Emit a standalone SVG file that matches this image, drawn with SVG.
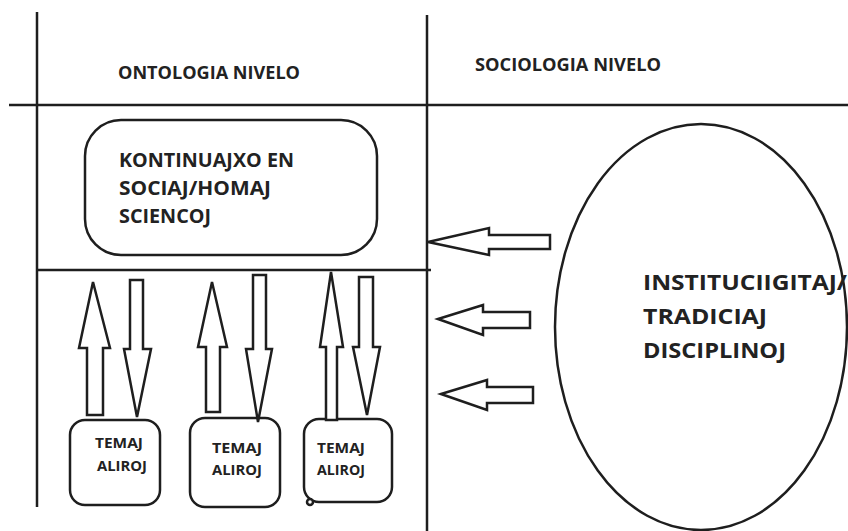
<svg xmlns="http://www.w3.org/2000/svg" width="848" height="531" viewBox="0 0 848 531">
<style>
.ln{stroke:#1e1e1e;stroke-width:2.5;fill:none}
.sh{stroke:#1e1e1e;stroke-width:2.5;fill:#fff;stroke-linejoin:miter}
.ar{stroke:#1e1e1e;stroke-width:2.5;fill:#fff;stroke-linejoin:miter}
text{font-family:"Open Sans","Liberation Sans",sans-serif;font-weight:700;fill:#222}
</style>
<rect width="848" height="531" fill="#fff"/>
<g id="grid">
<line class="ln" x1="37" y1="12" x2="37" y2="507"/>
<line class="ln" x1="427" y1="15" x2="427" y2="531"/>
<line class="ln" x1="9" y1="105" x2="848" y2="105"/>
<line class="ln" x1="37" y1="270" x2="431" y2="270"/>
</g>
<g id="headers">
<text x="118" y="79" font-size="17" textLength="182" lengthAdjust="spacingAndGlyphs">ONTOLOGIA NIVELO</text>
<text x="475" y="71" font-size="17" textLength="186" lengthAdjust="spacingAndGlyphs">SOCIOLOGIA NIVELO</text>
</g>
<g id="kontinuajxo">
<rect class="sh" x="85" y="120" width="292" height="135" rx="36" ry="36"/>
<text font-size="19"><tspan x="119" y="167" textLength="175" lengthAdjust="spacingAndGlyphs">KONTINUAJXO EN</tspan><tspan x="119" y="195" textLength="152" lengthAdjust="spacingAndGlyphs">SOCIAJ/HOMAJ</tspan><tspan x="119" y="223" textLength="92" lengthAdjust="spacingAndGlyphs">SCIENCOJ</tspan></text>
</g>
<g id="institucioj">
<ellipse class="sh" cx="701" cy="327" rx="146" ry="203"/>
<text font-size="22"><tspan x="643" y="290" textLength="204" lengthAdjust="spacingAndGlyphs">INSTITUCIIGITAJ/</tspan><tspan x="643" y="324" textLength="124" lengthAdjust="spacingAndGlyphs">TRADICIAJ</tspan><tspan x="643" y="358" textLength="143" lengthAdjust="spacingAndGlyphs">DISCIPLINOJ</tspan></text>
</g>
<g id="temaj1">
<rect class="sh" x="70" y="420" width="90" height="85" rx="15" ry="15"/>
<text font-size="14"><tspan x="95" y="448" textLength="48" lengthAdjust="spacingAndGlyphs">TEMAJ</tspan><tspan x="97" y="471" textLength="50" lengthAdjust="spacingAndGlyphs">ALIROJ</tspan></text>
</g>
<g id="temaj2">
<rect class="sh" x="190" y="418" width="90" height="89" rx="15" ry="15"/>
<text font-size="14"><tspan x="212" y="453" textLength="50" lengthAdjust="spacingAndGlyphs">TEMAJ</tspan><tspan x="212" y="475" textLength="50" lengthAdjust="spacingAndGlyphs">ALIROJ</tspan></text>
</g>
<g id="temaj3">
<rect class="sh" x="304" y="419" width="88" height="83" rx="15" ry="15"/>
<circle class="sh" cx="310" cy="502" r="3"/>
<text font-size="14"><tspan x="317" y="453" textLength="48" lengthAdjust="spacingAndGlyphs">TEMAJ</tspan><tspan x="317" y="475" textLength="48" lengthAdjust="spacingAndGlyphs">ALIROJ</tspan></text>
</g>
<g id="connectors">
<polygon class="ar" points="93,282 110,348 103,348 103,415 87,415 87,348 79,348"/>
<polygon class="ar" points="130,280 143,280 143,349 151,349 137,417 124,349 130,349"/>
<polygon class="ar" points="212,282 227,347 220,347 220,412 206,412 206,347 198,347"/>
<polygon class="ar" points="253,275 266,275 266,349 272,349 258,422 246,349 253,349"/>
<polygon class="ar" points="331,272 343,347 337,347 337,420 326,420 326,347 320,347"/>
<polygon class="ar" points="359,277 373,277 373,347 380,347 367,415 353,347 359,347"/>
<polygon class="ar" points="428,242 489,228 489,235 550,235 550,249 489,249 489,255"/>
<polygon class="ar" points="438,319 483,305 483,312 530,312 530,328 483,328 483,335"/>
<polygon class="ar" points="441,394 487,380 487,387 533,387 533,403 487,403 487,410"/>
</g>
</svg>
